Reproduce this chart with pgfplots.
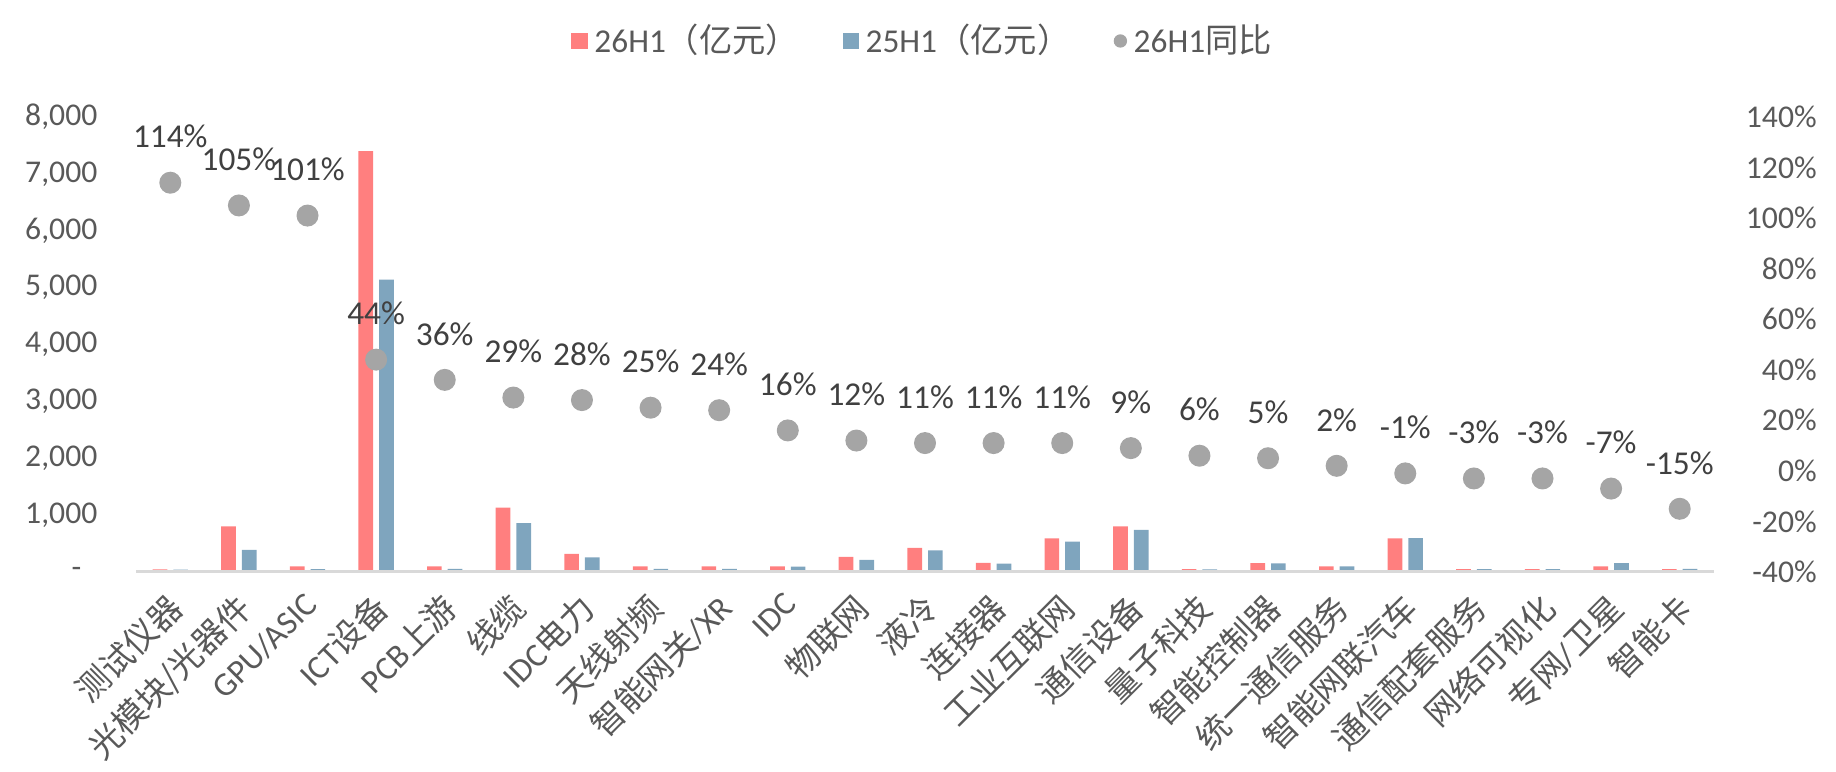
\documentclass[border=0pt]{standalone}
\usepackage{fontspec}
\setmainfont{Carlito}
\newfontfamily\cjk{Noto Sans CJK SC}
\usepackage{pgfplots}
\usepackage{pgfplotstable}
\pgfplotsset{compat=1.18}

\definecolor{barred}{HTML}{FF7F7F}
\definecolor{barblue}{HTML}{7FA5BE}
\definecolor{dotgray}{HTML}{A5A5A5}
\definecolor{txt}{HTML}{595959}
\definecolor{lbl}{HTML}{404040}
\definecolor{axgray}{HTML}{D9D9D9}

% idx, 26H1 (亿元), 25H1 (亿元), 26H1 同比 (%)
\pgfplotstableread{
idx a    b    c
0   45   40   114
1   800  390  105
2   100  50   101
3   7400 5140 44
4   100  55   36
5   1130 860  29
6   320  255  28
7   100  55   25
8   100  55   24
9   100  95   16
10  265  215  12
11  425  380  11
12  160  145  11
13  590  535  11
14  800  740  9
15  50   47   6
16  155  150  5
17  100  98   2
18  590  595  -1
19  50   52   -3
20  50   52   -3
21  100  155  -7
22  50   55   -15
}\data

\begin{document}
\begin{tikzpicture}
\begin{axis}[
  at={(0,0)}, anchor=south west,
  scale only axis, width=473.4pt, height=136.5pt,
  xmin=-0.5, xmax=22.5, ymin=0, ymax=8000,
  ybar=1.8pt, bar width=4.4pt,
  axis lines*=left, axis line style={draw=none},
  major tick length=0pt,
  xtick={0,...,22},
  xticklabels={{\cjk 测试仪器},{\cjk 光模块/光器件},GPU/ASIC,{ICT\cjk 设备},{PCB\cjk 上游},
    {\cjk 线缆},{IDC\cjk 电力},{\cjk 天线射频},{{\cjk 智能网关}/XR},IDC,{\cjk 物联网},
    {\cjk 液冷},{\cjk 连接器},{\cjk 工业互联网},{\cjk 通信设备},{\cjk 量子科技},
    {\cjk 智能控制器},{\cjk 统一通信服务},{\cjk 智能网联汽车},{\cjk 通信配套服务},
    {\cjk 网络可视化},{{\cjk 专网}/{\cjk 卫星}},{\cjk 智能卡}},
  ytick={0,1000,...,8000},
  yticklabels={{-\hspace*{4.8pt}},{1,000},{2,000},{3,000},{4,000},{5,000},{6,000},{7,000},{8,000}},
  tick label style={text=txt},
  yticklabel style={anchor=east, inner sep=0pt, xshift=-11.4pt, font=\fontsize{9.5}{11}\selectfont},
  xticklabel style={xshift=-1.5pt, yshift=-5.4pt, rotate=45, anchor=north east, inner sep=0pt,
    font=\fontsize{10}{12}\selectfont},
  clip=false,
]
\addplot[fill=barred, draw=none] table[x=idx, y=a]{\data};
\addplot[fill=barblue, draw=none] table[x=idx, y=b]{\data};
\draw[axgray, line width=0.9pt] (rel axis cs:0,0) -- (rel axis cs:1,0);
\end{axis}

\begin{axis}[
  at={(0,0)}, anchor=south west,
  scale only axis, width=473.4pt, height=136.5pt,
  xmin=-0.5, xmax=22.5, ymin=-40, ymax=140,
  hide x axis, axis y line*=right, axis line style={draw=none},
  major tick length=0pt,
  ytick={-40,-20,...,140},
  yticklabels={-40\%,-20\%,0\%,20\%,40\%,60\%,80\%,100\%,120\%,140\%},
  yticklabel style={anchor=east, inner sep=0pt, xshift=31pt, text=txt, font=\fontsize{9.5}{11}\selectfont},
  /pgf/number format/assume math mode=true,
  /pgf/number format/fixed, /pgf/number format/precision=0,
  clip=false,
  legend columns=3,
  legend style={at={(0.5,1.167)}, anchor=center, draw=none, fill=none,
    font=\fontsize{10}{12}\selectfont, text=txt,
    /tikz/every even column/.append style={column sep=11pt}},
]
\addlegendimage{legend image code/.code={\fill[barred] (0pt,-2.3pt) rectangle (4.5pt,2.3pt);}}
\addlegendentry{26H1{\cjk （亿元）}}
\addlegendimage{legend image code/.code={\fill[barblue] (0pt,-2.3pt) rectangle (4.5pt,2.3pt);}}
\addlegendentry{25H1{\cjk （亿元）}}
\addplot[only marks, mark=*, mark size=3.1pt, color=dotgray,
  point meta=y,
  nodes near coords={\pgfmathprintnumber{\pgfplotspointmeta}\%},
  every node near coord/.append style={anchor=center, yshift=13.8pt, text=lbl,
    font=\fontsize{10}{12}\selectfont},
  legend image code/.code={\fill[dotgray] (2pt,0pt) circle (1.8pt);}]
  table[x=idx, y=c]{\data};
\addlegendentry{26H1{\cjk 同比}}
\end{axis}
\pgfresetboundingbox
\path[use as bounding box] (-40.8pt,-60pt) rectangle (510pt,171.6pt);
\end{tikzpicture}
\end{document}
